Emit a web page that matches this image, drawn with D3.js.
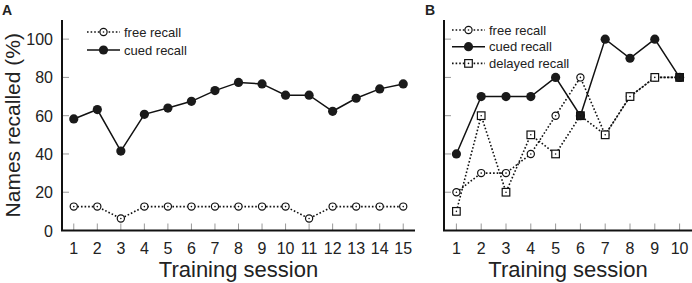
<!DOCTYPE html>
<html>
<head>
<meta charset="utf-8">
<script src="https://cdn.jsdelivr.net/npm/d3@7"></script>
<style>
  body { margin: 0; background: #fff; }
  text { font-family: "Liberation Sans", Arial, sans-serif; fill: #222; }
</style>
</head>
<body>
<div id="chart"></div>
<script>
// panel A
var sessionsA = [1,2,3,4,5,6,7,8,9,10,11,12,13,14,15];
var freeA = [12.5,12.5,6.25,12.5,12.5,12.5,12.5,12.5,12.5,12.5,6.25,12.5,12.5,12.5,12.5];
var cuedA = [58.3,63.2,41.5,60.7,64,67.5,73.1,77.4,76.6,70.7,70.7,62.3,69.1,74,76.6];

// panel B
var sessionsB = [1,2,3,4,5,6,7,8,9,10];
var freeB = [20,30,30,40,60,80,50,70,80,80];
var cuedB = [40,70,70,70,80,60,100,90,100,80];
var delayedB = [10,60,20,50,40,60,50,70,80,80];

var yTicks = [0,20,40,60,80,100];

var svg = d3.select("#chart")
    .append("svg")
    .attr("width", 692)
    .attr("height", 283);

var yScale = d3.scaleLinear().domain([0, 110]).range([230.5, 20]);

function zip(xs, ys) {
    return xs.map(function(x, i){ return {x: x, y: ys[i]}; });
}

function panel(opts) {
    var g = svg.append("g");
    var xScale = d3.scaleLinear().domain([0.5, opts.sessions.length + 0.5]).range([opts.left, opts.right]);

    // tick marks (gray, pointing inward)
    g.selectAll(".xt").data(opts.sessions).enter().append("line")
        .attr("x1", function(d){ return xScale(d); })
        .attr("x2", function(d){ return xScale(d); })
        .attr("y1", yScale(0)).attr("y2", yScale(0) - 7)
        .attr("stroke", "#999").attr("stroke-width", 1);
    g.selectAll(".yt").data(yTicks.slice(1)).enter().append("line")
        .attr("x1", opts.left).attr("x2", opts.left + 7)
        .attr("y1", function(d){ return yScale(d); })
        .attr("y2", function(d){ return yScale(d); })
        .attr("stroke", "#999").attr("stroke-width", 1);

    // axis lines
    g.append("path")
        .attr("d", "M" + opts.left + "," + yScale(110) + "V" + yScale(0) + "H" + opts.right)
        .attr("fill", "none").attr("stroke", "#111").attr("stroke-width", 2);

    g.selectAll(".xl").data(opts.sessions).enter().append("text")
        .attr("x", function(d){ return xScale(d); })
        .attr("y", 254)
        .attr("text-anchor", "middle")
        .attr("font-size", 16)
        .text(function(d){ return d; });

    if (opts.yLabels) {
        g.selectAll(".yl").data(yTicks).enter().append("text")
            .attr("x", opts.left - 9)
            .attr("y", function(d){ return yScale(d) + 6; })
            .attr("text-anchor", "end")
            .attr("font-size", 16)
            .text(function(d){ return d; });
        g.append("text")
            .attr("transform", "translate(20," + ((yScale(110) + yScale(0)) / 2) + ") rotate(-90)")
            .attr("text-anchor", "middle")
            .attr("font-size", 21)
            .text("Names recalled (%)");
    }

    g.append("text")
        .attr("x", (opts.left + opts.right) / 2)
        .attr("y", 277)
        .attr("text-anchor", "middle")
        .attr("font-size", 22)
        .text("Training session");

    g.append("text")
        .attr("x", opts.letterX).attr("y", 15)
        .attr("font-size", 14).attr("font-weight", "bold")
        .text(opts.letter);

    var line = d3.line()
        .x(function(d){ return xScale(d.x); })
        .y(function(d){ return yScale(d.y); });

    opts.series.forEach(function(s){
        g.append("path")
            .datum(zip(opts.sessions, s.values))
            .attr("d", line)
            .attr("fill", "none")
            .attr("stroke", "#111")
            .attr("stroke-width", s.dotted ? 1.6 : 1.5)
            .attr("stroke-dasharray", s.dotted ? "1.6,2" : null);
    });

    opts.series.forEach(function(s){
        var pts = zip(opts.sessions, s.values);
        drawMarkers(g, pts, s, xScale, opts.cued);
    });

    // legend
    opts.series.forEach(function(s, i){
        var ly = opts.legendY + i * opts.legendStep;
        g.append("line")
            .attr("x1", opts.legendX).attr("x2", opts.legendX + 33)
            .attr("y1", ly).attr("y2", ly)
            .attr("stroke", "#111")
            .attr("stroke-width", s.dotted ? 1.6 : 1.5)
            .attr("stroke-dasharray", s.dotted ? "1.6,2" : null);
        drawMarkers(g, [{x: 0, y: 0}], s, null, null, opts.legendX + 16.5, ly);
        g.append("text")
            .attr("x", opts.legendX + 37).attr("y", ly + 4.5)
            .attr("font-size", 13)
            .text(s.name);
    });
}

function drawMarkers(g, pts, s, xScale, cued, fx, fy) {
    var px = function(d){ return fx !== undefined ? fx : xScale(d.x); };
    var py = function(d){ return fy !== undefined ? fy : yScale(d.y); };
    var filledAt = function(d, i){ return cued && fx === undefined && cued[i] === d.y; };
    if (s.shape === "filled") {
        g.selectAll(null).data(pts).enter().append("circle")
            .attr("cx", px).attr("cy", py).attr("r", 4.6)
            .attr("fill", "#1a1a1a");
        return;
    }
    if (s.shape === "circle") {
        g.selectAll(null).data(pts).enter().append("circle")
            .attr("cx", px).attr("cy", py).attr("r", 3.6)
            .attr("fill", "#fff").attr("stroke", "#111").attr("stroke-width", 1.2);
    } else {
        g.selectAll(null).data(pts).enter().append("rect")
            .attr("x", function(d){ return px(d) - 3.8; })
            .attr("y", function(d){ return py(d) - 3.8; })
            .attr("width", 7.6).attr("height", 7.6)
            .attr("fill", function(d, i){ return filledAt(d, i) ? "#1a1a1a" : "#fff"; })
            .attr("stroke", "#111").attr("stroke-width", 1.2);
    }
    g.selectAll(null).data(pts).enter().append("circle")
        .attr("cx", px).attr("cy", py).attr("r", 0.8)
        .attr("fill", "#111");
}

panel({
    sessions: sessionsA, left: 62, right: 415, yLabels: true,
    letter: "A", letterX: 2,
    legendX: 87, legendY: 32, legendStep: 18,
    series: [
        {name: "free recall", values: freeA, dotted: true, shape: "circle"},
        {name: "cued recall", values: cuedA, dotted: false, shape: "filled"}
    ]
});

panel({
    sessions: sessionsB, left: 444, right: 692, yLabels: false,
    letter: "B", letterX: 425,
    legendX: 452, legendY: 30, legendStep: 16.7,
    cued: cuedB,
    series: [
        {name: "free recall", values: freeB, dotted: true, shape: "circle"},
        {name: "cued recall", values: cuedB, dotted: false, shape: "filled"},
        {name: "delayed recall", values: delayedB, dotted: true, shape: "square"}
    ]
});
</script>
</body>
</html>
